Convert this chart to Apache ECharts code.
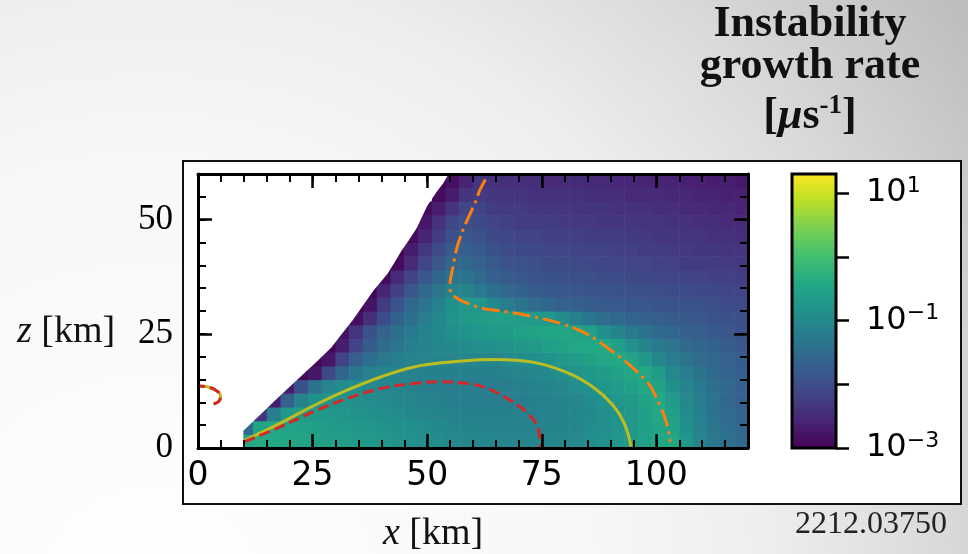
<!DOCTYPE html>
<html>
<head>
<meta charset="utf-8">
<script src="https://cdn.jsdelivr.net/npm/echarts@6/dist/echarts.min.js"></script>
<style>
  html, body { margin: 0; padding: 0; background: #fff; }
  #chart { width: 968px; height: 554px; }
</style>
</head>
<body>
<div id="chart"></div>
<script>
// Instability growth rate, stored as log10(rate / µs^-1) on a 3 km x 3 km grid.
// One row per height z (cell centres), starting at rowFirstX and running to x = 118.5 km.
const cellSize = 3;
const zCentres = [1.5, 4.5, 7.5, 10.5, 13.5, 16.5, 19.5, 22.5, 25.5, 28.5,
                  31.5, 34.5, 37.5, 40.5, 43.5, 46.5, 49.5, 52.5, 55.5, 58.5];
const rowFirstX = [10.5, 10.5, 13.5, 16.5, 19.5, 22.5, 25.5, 28.5, 31.5, 34.5,
                   34.5, 37.5, 40.5, 40.5, 43.5, 46.5, 46.5, 49.5, 52.5, 52.5];
const growthLog10 = [
  [-0.42,-0.38,-0.42,-0.46,-0.51,-0.55,-0.59,-0.64,-0.68,-0.72,-0.76,-0.81,-0.85,-0.89,-0.94,-0.98,-1.02,-1.02,-1.07,-1.07,-1.07,-1.07,-1.07,-1.02,-0.98,-0.94,-0.85,-0.76,-0.68,-0.59,-0.46,-0.42,-0.76,-1.07,-1.28,-1.41,-1.54],
  [-1.50,-0.51,-0.46,-0.51,-0.55,-0.59,-0.64,-0.68,-0.72,-0.76,-0.81,-0.85,-0.89,-0.94,-0.98,-1.02,-1.07,-1.07,-1.11,-1.11,-1.11,-1.11,-1.07,-1.07,-1.02,-0.94,-0.89,-0.81,-0.72,-0.59,-0.46,-0.51,-0.85,-1.11,-1.32,-1.45,-1.58],
  [-2.36,-1.19,-0.72,-0.64,-0.68,-0.72,-0.76,-0.81,-0.85,-0.89,-0.94,-0.98,-1.02,-1.07,-1.11,-1.15,-1.15,-1.15,-1.15,-1.15,-1.15,-1.11,-1.07,-1.02,-0.98,-0.89,-0.81,-0.72,-0.59,-0.42,-0.59,-0.94,-1.15,-1.37,-1.50,-1.62],
  [-2.66,-1.71,-1.11,-0.85,-0.81,-0.85,-0.89,-0.94,-0.98,-1.02,-1.07,-1.11,-1.15,-1.19,-1.19,-1.19,-1.19,-1.19,-1.19,-1.15,-1.11,-1.07,-1.02,-0.94,-0.85,-0.76,-0.68,-0.55,-0.42,-0.68,-0.98,-1.19,-1.37,-1.54,-1.67],
  [-2.66,-1.93,-1.37,-1.07,-0.94,-0.94,-0.98,-1.02,-1.07,-1.11,-1.15,-1.19,-1.19,-1.19,-1.19,-1.19,-1.19,-1.15,-1.11,-1.07,-1.02,-0.94,-0.85,-0.76,-0.68,-0.59,-0.42,-0.55,-0.85,-1.07,-1.24,-1.41,-1.54,-1.67],
  [-2.91,-2.74,-2.05,-1.58,-1.28,-1.11,-1.07,-1.07,-1.11,-1.15,-1.15,-1.15,-1.15,-1.15,-1.15,-1.11,-1.07,-1.02,-0.98,-0.89,-0.81,-0.72,-0.64,-0.55,-0.46,-0.42,-0.64,-0.98,-1.19,-1.37,-1.50,-1.62,-1.71],
  [-2.91,-2.74,-2.14,-1.71,-1.45,-1.28,-1.19,-1.11,-1.07,-1.07,-1.07,-1.02,-1.02,-1.02,-0.98,-0.94,-0.89,-0.81,-0.72,-0.64,-0.55,-0.46,-0.42,-0.51,-0.72,-0.98,-1.19,-1.37,-1.50,-1.58,-1.67,-1.75],
  [-2.95,-2.66,-2.14,-1.75,-1.50,-1.32,-1.19,-1.11,-1.02,-0.98,-0.94,-0.89,-0.85,-0.81,-0.72,-0.68,-0.59,-0.55,-0.46,-0.42,-0.42,-0.59,-0.85,-1.07,-1.24,-1.37,-1.50,-1.58,-1.67,-1.75,-1.84],
  [-2.79,-2.36,-1.93,-1.62,-1.41,-1.24,-1.11,-0.98,-0.89,-0.81,-0.76,-0.68,-0.64,-0.55,-0.51,-0.46,-0.46,-0.51,-0.59,-0.85,-1.07,-1.24,-1.37,-1.50,-1.58,-1.67,-1.71,-1.80,-1.84,-1.93],
  [-2.83,-2.44,-2.01,-1.67,-1.41,-1.19,-0.98,-0.81,-0.68,-0.64,-0.59,-0.59,-0.64,-0.68,-0.72,-0.94,-1.15,-1.32,-1.45,-1.54,-1.62,-1.67,-1.71,-1.75,-1.80,-1.84,-1.88,-1.93,-1.97],
  [-2.95,-2.79,-2.27,-1.88,-1.58,-1.37,-1.15,-0.85,-0.72,-0.76,-0.98,-1.19,-1.37,-1.50,-1.58,-1.67,-1.71,-1.75,-1.80,-1.80,-1.84,-1.84,-1.88,-1.88,-1.93,-1.93,-1.97,-2.01,-2.05],
  [-2.95,-2.57,-2.18,-1.84,-1.58,-1.32,-1.07,-1.07,-1.24,-1.41,-1.54,-1.67,-1.75,-1.80,-1.84,-1.84,-1.88,-1.88,-1.93,-1.93,-1.97,-1.97,-2.01,-2.01,-2.05,-2.05,-2.10,-2.14],
  [-2.87,-2.48,-2.14,-1.84,-1.58,-1.37,-1.37,-1.50,-1.67,-1.75,-1.84,-1.88,-1.93,-1.93,-1.97,-1.97,-2.01,-2.01,-2.05,-2.05,-2.10,-2.10,-2.14,-2.14,-2.18,-2.18,-2.23],
  [-2.97,-2.87,-2.48,-2.14,-1.84,-1.58,-1.54,-1.67,-1.80,-1.88,-1.93,-1.97,-2.01,-2.01,-2.05,-2.05,-2.10,-2.10,-2.14,-2.14,-2.18,-2.18,-2.23,-2.23,-2.27,-2.27,-2.31],
  [-2.95,-2.66,-2.31,-2.01,-1.75,-1.71,-1.80,-1.93,-2.01,-2.05,-2.05,-2.10,-2.10,-2.14,-2.14,-2.14,-2.18,-2.18,-2.23,-2.23,-2.27,-2.27,-2.31,-2.31,-2.36,-2.36],
  [-2.87,-2.57,-2.23,-1.93,-1.84,-1.93,-2.05,-2.10,-2.14,-2.14,-2.18,-2.18,-2.18,-2.23,-2.23,-2.23,-2.27,-2.27,-2.31,-2.31,-2.36,-2.36,-2.40,-2.40,-2.44],
  [-2.97,-2.74,-2.40,-2.10,-1.97,-2.05,-2.14,-2.18,-2.23,-2.23,-2.23,-2.27,-2.27,-2.27,-2.31,-2.31,-2.31,-2.36,-2.36,-2.40,-2.40,-2.44,-2.44,-2.48,-2.48],
  [-2.87,-2.66,-2.36,-2.14,-2.14,-2.23,-2.27,-2.27,-2.31,-2.31,-2.31,-2.36,-2.36,-2.36,-2.40,-2.40,-2.40,-2.44,-2.44,-2.48,-2.48,-2.53,-2.53,-2.57],
  [-2.87,-2.66,-2.36,-2.27,-2.31,-2.36,-2.36,-2.40,-2.40,-2.40,-2.40,-2.44,-2.44,-2.44,-2.48,-2.48,-2.48,-2.53,-2.53,-2.57,-2.57,-2.61,-2.61],
  [-2.97,-2.83,-2.57,-2.36,-2.40,-2.44,-2.44,-2.44,-2.48,-2.48,-2.48,-2.48,-2.48,-2.53,-2.53,-2.57,-2.57,-2.57,-2.61,-2.61,-2.66,-2.66,-2.70]
];

// Edge of the computed domain [x km, z km]; nothing is defined to the left of it
const domainEdge = [[54.7,60],[53.5,58],[52,56],[50,53],[48.8,50.5],[47.8,48.3],[46,45.5],[44.4,43.2],[42.8,40.5],[41.3,38.1],[39.8,36.3],[38.3,34.5],[36,31.2],[33.7,27.9],[31.4,25],[29.1,22],[26,19],[23,16.2],[19.9,13.3],[16.8,10.4],[13.4,7.1],[9.9,3.8],[9.9,0]];

// Contour lines [x km, z km]
const oliveContour = [[10.2,1.7],[17.9,5.4],[25.1,9.2],[32.4,12.6],[39.7,15.5],[46.9,17.7],[54.5,18.8],[61.4,19.3],[65,19.4],[73,18.8],[80.3,16.6],[86.1,13.4],[90.5,9.4],[93,5.4],[94.5,0.3]];
const redContour = [[10.2,1.4],[17.9,4.6],[25.1,7.9],[32.4,10.8],[39.7,13],[46.9,14.1],[52.7,14.5],[57,14.3],[62.2,13.4],[68,10.5],[72.3,7.2],[74.5,3.2],[74.7,0.3]];
const orangeContour = [[62.7,58.8],[61.5,56.5],[60.5,53.8],[59,50.5],[57.6,47.2],[56.4,43.5],[55.6,39.5],[55,36],[55.1,34.1],[56.5,32.8],[58.5,31.8],[62,30.6],[66,30],[70,29.4],[76.5,28],[82,26.3],[86,24.3],[89.5,21.8],[93,19.2],[96,16.5],[98.5,13.8],[100.3,10.4],[101.6,7.4],[102.5,4.5],[103,1.4]];
const nearAxisLoop = [[0,13.6],[2,13.4],[3.8,12.7],[4.9,11.5],[4.7,10.4],[3.4,9.6]];

// Axis ticks
const xMajorTicks = [0, 25, 50, 75, 100];
const zMajorTicks = [0, 25, 50];
const colourRange = [-3, 1.3];          // log10 of the colour scale limits
const colourTicks = [-3, -2, -1, 0, 1];
const colourTickLabels = [-3, -1, 1];

const viridis = ['#440154','#482475','#414487','#355f8d','#2a788e','#21918c',
                 '#22a884','#44bf70','#7ad151','#bddf26','#fde725'];
const serif = '"Liberation Serif", "DejaVu Serif", serif';
const sans = '"DejaVu Sans", sans-serif';

const cells = [];
growthLog10.forEach((row, i) => {
  row.forEach((v, j) => cells.push([rowFirstX[i] + j * cellSize, zCentres[i], v]));
});
// white area outside the domain: plot corner (0,60), the edge, then (0,0)
const outsideDomain = [[0, 60]].concat(domainEdge, [[0, 0]]);

const chart = echarts.init(document.getElementById('chart'), null, { renderer: 'canvas', width: 968, height: 554 });

const spine = { show: true, onZero: false, lineStyle: { color: '#000', width: 3 } };
const noLine = { show: false, onZero: false };
const majorTick = (vals) => ({ show: true, inside: true, length: 14, customValues: vals, lineStyle: { color: '#000', width: 2.5 } });
const minorTick = { show: true, inside: true, length: 8, lineStyle: { color: '#000', width: 2 } };

const xBase = { gridIndex: 0, type: 'value', min: 0, max: 120, splitLine: { show: false }, z: 10 };
const yBase = { gridIndex: 0, type: 'value', min: 0, max: 60, splitLine: { show: false }, z: 10 };

const option = {
  animation: false,
  backgroundColor: {
    type: 'radial', x: 150, y: 600, r: 1000, global: true,
    colorStops: [
      { offset: 0, color: '#ffffff' },
      { offset: 0.45, color: '#f7f7f7' },
      { offset: 0.62, color: '#eeeeee' },
      { offset: 0.8, color: '#d9d9d9' },
      { offset: 1, color: '#bebebe' }
    ]
  },
  grid: [
    { left: 198, top: 174, width: 550, height: 274, containLabel: false, outerBoundsMode: 'none' },
    { left: 792, top: 174, width: 44, height: 274, containLabel: false, outerBoundsMode: 'none' }
  ],
  xAxis: [
    Object.assign({}, xBase, { position: 'bottom', interval: 25, axisLine: spine, axisTick: majorTick(xMajorTicks),
      axisLabel: { show: true, color: '#000', fontFamily: sans, fontSize: 33, margin: 12, customValues: xMajorTicks } }),
    Object.assign({}, xBase, { position: 'bottom', interval: 5, axisLine: noLine, axisTick: minorTick, axisLabel: { show: false } }),
    Object.assign({}, xBase, { position: 'top', interval: 25, axisLine: spine, axisTick: majorTick(xMajorTicks), axisLabel: { show: false } }),
    Object.assign({}, xBase, { position: 'top', interval: 5, axisLine: noLine, axisTick: minorTick, axisLabel: { show: false } }),
    { gridIndex: 1, type: 'value', min: 0, max: 1, show: false }
  ],
  yAxis: [
    Object.assign({}, yBase, { position: 'left', interval: 25, axisLine: spine, axisTick: majorTick(zMajorTicks),
      axisLabel: { show: true, color: '#000', fontFamily: serif, fontSize: 35, margin: 25, customValues: zMajorTicks } }),
    Object.assign({}, yBase, { position: 'left', interval: 5, axisLine: noLine, axisTick: minorTick, axisLabel: { show: false } }),
    Object.assign({}, yBase, { position: 'right', interval: 25, axisLine: spine, axisTick: majorTick(zMajorTicks), axisLabel: { show: false } }),
    Object.assign({}, yBase, { position: 'right', interval: 5, axisLine: noLine, axisTick: minorTick, axisLabel: { show: false } }),
    {
      gridIndex: 1, type: 'value', position: 'right', min: colourRange[0], max: colourRange[1], interval: 1, z: 10,
      splitLine: { show: false },
      axisLine: { show: false, onZero: false },
      axisTick: { show: true, inside: false, length: 13, customValues: colourTicks, lineStyle: { color: '#000', width: 2.5 } },
      axisLabel: {
        show: true, color: '#000', fontFamily: sans, fontSize: 32, lineHeight: 36, margin: 30,
        customValues: colourTickLabels,
        formatter: (v) => {
          const e = Math.round(v);
          return '10{s|' + (e < 0 ? '\u2212' + (-e) : String(e)) + '}';
        },
        rich: { s: { fontFamily: sans, fontSize: 22, lineHeight: 22, color: '#000', verticalAlign: 'top' } }
      }
    }
  ],
  visualMap: {
    type: 'continuous', show: false, seriesIndex: 0, dimension: 2,
    min: colourRange[0], max: colourRange[1], inRange: { color: viridis }
  },
  series: [
    {
      type: 'custom', name: 'growth rate', xAxisIndex: 0, yAxisIndex: 0, z: 1, silent: true,
      encode: { x: 0, y: 1 },
      data: cells,
      renderItem: (params, api) => {
        const x = api.value(0), z = api.value(1), h = cellSize / 2;
        const p0 = api.coord([x - h, z + h]);
        const p1 = api.coord([x + h, z - h]);
        return {
          type: 'rect',
          shape: { x: p0[0], y: p0[1], width: p1[0] - p0[0] + 0.6, height: p1[1] - p0[1] + 0.6 },
          style: { fill: api.visual('color') }
        };
      }
    },
    {
      type: 'custom', name: 'colour scale', xAxisIndex: 4, yAxisIndex: 4, z: 1, silent: true,
      data: [[0, 0]],
      renderItem: (params, api) => {
        const tl = api.coord([0, colourRange[1]]);
        const br = api.coord([1, colourRange[0]]);
        return {
          type: 'rect',
          shape: { x: tl[0], y: tl[1], width: br[0] - tl[0], height: br[1] - tl[1] },
          style: {
            fill: { type: 'linear', x: 0, y: 1, x2: 0, y2: 0,
              colorStops: viridis.map((c, i) => ({ offset: i / (viridis.length - 1), color: c })) },
            stroke: '#000', lineWidth: 3
          }
        };
      }
    },
    {
      type: 'custom', name: 'outside domain', xAxisIndex: 0, yAxisIndex: 0, z: 2, silent: true,
      data: [[0, 0]],
      renderItem: (params, api) => ({
        type: 'polygon',
        shape: { points: outsideDomain.map((p) => api.coord(p)) },
        style: { fill: '#ffffff' }
      })
    },
    { type: 'line', name: 'olive', data: oliveContour, smooth: 0.4, symbol: 'none', z: 3, silent: true,
      lineStyle: { color: '#bcbd22', width: 3 } },
    { type: 'line', name: 'olive loop', data: nearAxisLoop, smooth: 0.4, symbol: 'none', z: 3, silent: true,
      lineStyle: { color: '#bcbd22', width: 3 } },
    { type: 'line', name: 'red', data: redContour, smooth: 0.4, symbol: 'none', z: 4, silent: true,
      lineStyle: { color: '#d62728', width: 3, type: [11, 5] } },
    { type: 'line', name: 'red loop', data: nearAxisLoop, smooth: 0.4, symbol: 'none', z: 4, silent: true,
      lineStyle: { color: '#d62728', width: 3, type: [11, 5], dashOffset: 4 } },
    { type: 'line', name: 'orange', data: orangeContour, smooth: 0.3, symbol: 'none', z: 4, silent: true,
      lineStyle: { color: '#ff7f0e', width: 3, type: [18, 5, 3, 5] } }
  ],
  graphic: [
    { type: 'rect', z: -10, shape: { x: 183, y: 161, width: 778, height: 343 },
      style: { fill: '#ffffff', stroke: '#111', lineWidth: 2 } },
    { type: 'text', x: 810, y: 25, style: { text: 'Instability', fill: '#111', font: 'bold 44px ' + serif, align: 'center', verticalAlign: 'middle' } },
    { type: 'text', x: 810, y: 67, style: { text: 'growth rate', fill: '#111', font: 'bold 44px ' + serif, align: 'center', verticalAlign: 'middle' } },
    { type: 'text', x: 810, y: 117, style: {
        text: '{a|[}{m|\u03bc}{a|s}{p|-1}{a|]}', align: 'center', verticalAlign: 'middle',
        rich: {
          a: { fontFamily: serif, fontWeight: 'bold', fontSize: 44, lineHeight: 48, fill: '#111' },
          m: { fontFamily: serif, fontWeight: 'bold', fontStyle: 'italic', fontSize: 44, lineHeight: 48, fill: '#111' },
          p: { fontFamily: serif, fontWeight: 'bold', fontSize: 27, lineHeight: 27, fill: '#111', verticalAlign: 'top' }
        } } },
    { type: 'text', x: 17, y: 332, style: {
        text: '{i|z} [km]', fill: '#111', font: '38px ' + serif, align: 'left', verticalAlign: 'middle',
        rich: { i: { fontFamily: serif, fontStyle: 'italic', fontSize: 38, fill: '#111' } } } },
    { type: 'text', x: 383, y: 534, style: {
        text: '{i|x} [km]', fill: '#111', font: '38px ' + serif, align: 'left', verticalAlign: 'middle',
        rich: { i: { fontFamily: serif, fontStyle: 'italic', fontSize: 38, fill: '#111' } } } },
    { type: 'text', x: 871, y: 525, style: { text: '2212.03750', fill: '#222', font: '32px ' + serif, align: 'center', verticalAlign: 'middle' } }
  ]
};

chart.setOption(option);
</script>
</body>
</html>
